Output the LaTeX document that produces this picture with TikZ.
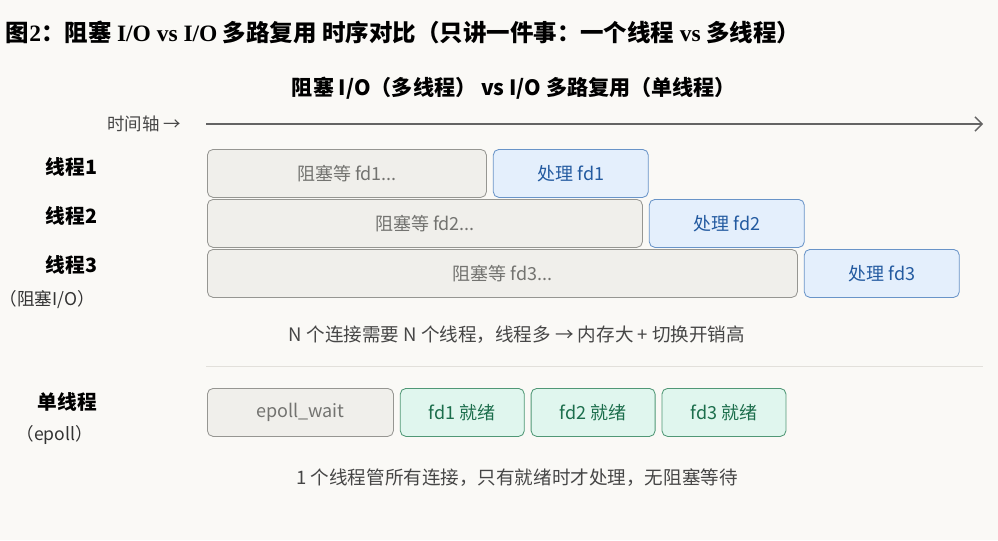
\documentclass[tikz,border=0pt]{standalone}
\usepackage{fontspec}
\setmainfont{Noto Sans CJK SC}
\newfontfamily\titleserif{Liberation Serif}
\usepackage{tikz}
\usetikzlibrary{positioning,arrows.meta}
\definecolor{background}{RGB}{250, 249, 246}
\definecolor{waitfill}{RGB}{240, 239, 235}
\definecolor{waitline}{RGB}{150, 150, 146}
\definecolor{waittext}{RGB}{115, 115, 112}
\definecolor{procfill}{RGB}{228, 239, 252}
\definecolor{procline}{RGB}{105, 148, 200}
\definecolor{proctext}{RGB}{35, 90, 160}
\definecolor{readyfill}{RGB}{224, 246, 238}
\definecolor{readyline}{RGB}{80, 152, 118}
\definecolor{readytext}{RGB}{28, 110, 76}
\definecolor{notetext}{RGB}{70, 70, 70}
\definecolor{axisline}{RGB}{100, 100, 100}
\definecolor{sepline}{RGB}{226, 224, 219}
\newcommand\pxu{0.025cm}

\begin{document}
\begin{tikzpicture}[x=0.025cm,y=-0.025cm,
		slot/.style={rounded corners=4pt,inner sep=0pt,line width=0.6pt,
			minimum height=48*\pxu,font=\fontsize{12.8}{15}\selectfont},
		waitbox/.style={slot,draw=waitline,fill=waitfill,text=waittext},
		procbox/.style={slot,draw=procline,fill=procfill,text=proctext,minimum width=155*\pxu},
		readybox/.style={slot,draw=readyline,fill=readyfill,text=readytext,minimum width=124*\pxu},
		rowlabel/.style={anchor=east,font=\fontsize{14}{16}\selectfont\bfseries},
		sublabel/.style={anchor=east,font=\fontsize{12.5}{14}\selectfont,text=black!80},
		note/.style={font=\fontsize{13.2}{15}\selectfont,text=notetext}]
	\useasboundingbox[fill=background] (0,0) rectangle (998,540);
	% titles
	\node[anchor=west,font=\fontsize{16.7}{19}\selectfont\bfseries] (title) at (1,32)
		{图{\titleserif 2}：阻塞 {\titleserif I/O vs I/O} 多路复用 时序对比（只讲一件事：一个线程 {\titleserif vs} 多线程）};
	\node[font=\fontsize{15}{18}\selectfont\bfseries] (subtitle) at (514,88)
		{阻塞 I/O（多线程） vs I/O 多路复用（单线程）};
	% time axis
	\node[anchor=east,font=\fontsize{12.4}{14}\selectfont,text=notetext] (axislabel) at (186,124) {时间轴 →};
	\coordinate (axisstart) at (206,124);
	\coordinate (axisend) at (983,124);
	\draw[axisline,line width=1pt,-{Straight Barb[length=5pt,width=10pt]}] (axisstart) -- (axisend);
	% blocking threads
	\node[rowlabel] (t1) at (102,167) {线程1};
	\node[rowlabel] (t2) at (102,216) {线程2};
	\node[rowlabel] (t3) at (102,265) {线程3};
	\node[sublabel] (blk) at (100,300) {（阻塞I/O）};
	\node[waitbox,anchor=north west,minimum width=279*\pxu] (wait1) at (207,149) {阻塞等 fd1...};
	\node[procbox,right=0.15cm of wait1] (proc1) {处理 fd1};
	\node[waitbox,anchor=north west,minimum width=435*\pxu] (wait2) at (207,199) {阻塞等 fd2...};
	\node[procbox,right=0.15cm of wait2] (proc2) {处理 fd2};
	\node[waitbox,anchor=north west,minimum width=590*\pxu] (wait3) at (207,249) {阻塞等 fd3...};
	\node[procbox,right=0.15cm of wait3] (proc3) {处理 fd3};
	\node[note] (cost) at (517,335) {N 个连接需要 N 个线程，线程多 → 内存大 + 切换开销高};
	% separator
	\coordinate (sepstart) at (206,366);
	\coordinate (sepend) at (983,366);
	\draw[sepline,line width=0.7pt] (sepstart) -- (sepend);
	% epoll thread
	\node[rowlabel] (single) at (102,402) {单线程};
	\node[sublabel] (ep) at (98,435) {（epoll）};
	\node[waitbox,anchor=north west,minimum width=186*\pxu] (epwait) at (207,388) {epoll\_wait};
	\node[readybox,right=0.15cm of epwait] (ready1) {fd1 就绪};
	\node[readybox,right=0.15cm of ready1] (ready2) {fd2 就绪};
	\node[readybox,right=0.15cm of ready2] (ready3) {fd3 就绪};
	\node[note] (gain) at (517,478) {1 个线程管所有连接，只有就绪时才处理，无阻塞等待};
\end{tikzpicture}
\end{document}
